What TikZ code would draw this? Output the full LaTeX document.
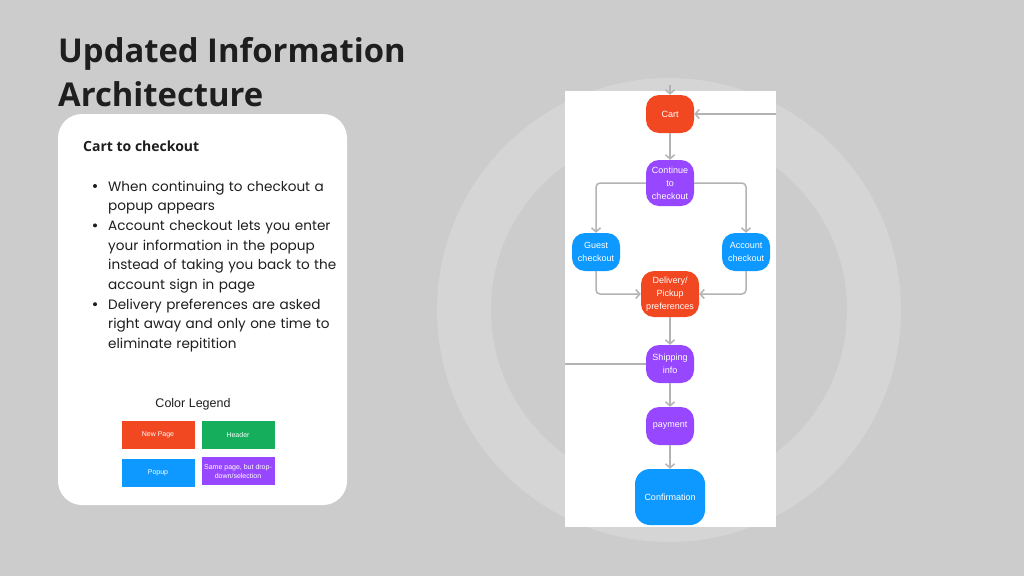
\documentclass[tikz,border=0pt]{standalone}
\usepackage{fontspec}
\setmainfont{Poppins}
\newfontfamily\headfont{Open Sans}
\newfontfamily\flowfont{Liberation Sans}
\usetikzlibrary{arrows.meta}
\definecolor{bg}{HTML}{CCCCCC}
\definecolor{ring}{HTML}{D5D5D5}
\definecolor{ink}{HTML}{1E1E1E}
\definecolor{pagered}{HTML}{F24822}
\definecolor{popblue}{HTML}{0D99FF}
\definecolor{droppurple}{HTML}{9747FF}
\definecolor{headgreen}{HTML}{14AE5C}
\definecolor{wire}{HTML}{B3B3B3}
\tikzset{
  flow/.style={rounded corners=13pt, minimum width=48pt, minimum height=38pt, align=center,
    text=white, inner sep=1pt, font=\flowfont\fontsize{9}{13}\selectfont},
  newpage/.style={flow, fill=pagered},
  popup/.style={flow, fill=popblue},
  dropdown/.style={flow, fill=droppurple},
  key/.style={minimum width=73pt, minimum height=28pt, align=center, text=white, inner sep=1pt,
    font=\flowfont\fontsize{7}{9}\selectfont},
  link/.style={draw=wire, line width=1.5pt, rounded corners=4pt, -{Straight Barb[length=4pt,width=9pt]}},
  item/.style={anchor=base west, inner sep=0, text width=245pt, align=left, text=ink,
    font=\fontsize{13.6}{19.7}\selectfont},
}

\begin{document}
\begin{tikzpicture}[x=1pt,y=-1pt]
\fill[bg] (0,0) rectangle (1024,576);
\useasboundingbox (0,0) rectangle (1024,576);
\fill[ring] (669,310) circle (232pt);
\fill[bg] (669,310) circle (178pt);

\node[anchor=base west, inner sep=0, text=ink, font=\headfont\bfseries\fontsize{32.8}{44}\selectfont] (t1) at (58,62) {Updated Information};
\node[anchor=base west, inner sep=0, text=ink, font=\headfont\bfseries\fontsize{32.8}{44}\selectfont] (t2) at (58,106) {Architecture};

% notes card
\fill[white, rounded corners=24pt] (58,114) rectangle (347,505);
\node[anchor=base west, inner sep=0, text=ink, font=\headfont\bfseries\fontsize{14}{16}\selectfont] (cap) at (83,151) {Cart to checkout};
\node[item] (a) at (108,191) {When continuing to checkout a\\popup appears};
\node[item] (b) at (108,230.4) {Account checkout lets you enter\\your information in the popup\\instead of taking you back to the\\account sign in page};
\node[item] (c) at (108,309.2) {Delivery preferences are asked\\right away and only one time to\\eliminate repitition};
\fill[ink] (95,186) circle (2pt);
\fill[ink] (95,225.4) circle (2pt);
\fill[ink] (95,304.2) circle (2pt);

\node[text=ink, font=\flowfont\fontsize{12.5}{15}\selectfont] (legend) at (193,404) {Color Legend};
\node[key, fill=pagered] (k1) at (158,435) {New Page};
\node[key, fill=headgreen] (k2) at (238,435) {Header};
\node[key, fill=popblue] (k3) at (158,473) {Popup};
\node[key, fill=droppurple] (k4) at (238,471) {Same page, but drop-\\down/selection};

% flow panel
\fill[white] (565,91) rectangle (776,527);
\node[newpage] (1) at (670,114) {Cart};
\node[dropdown, minimum height=46pt] (2) at (670,183) {Continue\\to\\checkout};
\node[popup] (3) at (596,252) {Guest\\checkout};
\node[popup] (4) at (746,252) {Account\\checkout};
\node[newpage, minimum width=58pt, minimum height=46pt] (5) at (670,294) {Delivery/\\Pickup\\preferences};
\node[dropdown] (6) at (670,364) {Shipping\\info};
\node[dropdown] (7) at (670,426) {payment};
\node[popup, minimum width=70pt, minimum height=56pt, rounded corners=15pt] (8) at (670,497) {Confirmation};
\coordinate (in) at (670,85);
\coordinate (back) at (776,114);
\coordinate (side) at (565,364);

\draw[link] (in) -- (1);
\draw[link] (back) -- (1);
\draw[link] (1) -- (2);
\draw[link] (2.west) -| (3);
\draw[link] (2.east) -| (4);
\draw[link] (3) |- (5);
\draw[link] (4) |- (5);
\draw[link] (5) -- (6);
\draw[link] (6) -- (7);
\draw[link] (7) -- (8);
\draw[wire, line width=1.5pt] (side) -- (6);
\end{tikzpicture}
\end{document}
